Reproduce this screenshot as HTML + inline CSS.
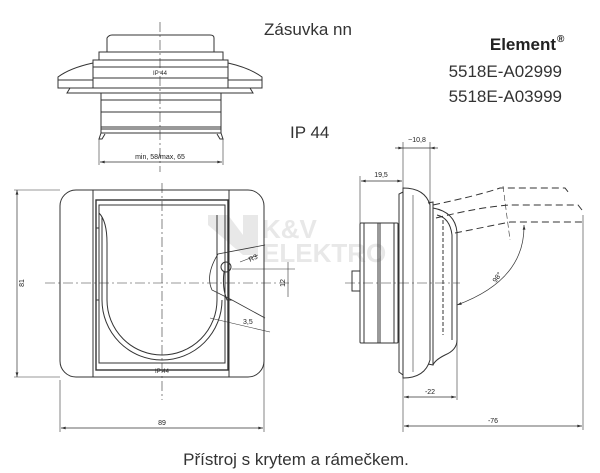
<!DOCTYPE html>
<html><head><meta charset="utf-8"><style>
html,body{margin:0;padding:0;background:#fff;width:600px;height:473px;overflow:hidden}
svg{display:block}
text{font-family:"Liberation Sans",sans-serif;fill:#222}
</style></head><body>
<svg width="600" height="473" viewBox="0 0 600 473" xmlns="http://www.w3.org/2000/svg">
<defs>
<marker id="a" viewBox="0 0 10 6" refX="10" refY="3" markerWidth="8" markerHeight="4" orient="auto-start-reverse"><path d="M0,0L10,3L0,6z" fill="#333"/></marker>
</defs>
<text x="308" y="35" font-size="17" text-anchor="middle" style="fill:#333">Zásuvka nn</text>
<text x="556" y="50" font-size="17" font-weight="bold" text-anchor="end">Element</text>
<text x="557" y="42" font-size="10" font-weight="bold">®</text>
<text x="562" y="77" font-size="17" text-anchor="end" style="fill:#333">5518E-A02999</text>
<text x="562" y="102" font-size="17" text-anchor="end" style="fill:#333">5518E-A03999</text>
<text x="290" y="138" font-size="17" style="fill:#333">IP 44</text>
<text x="296" y="465" font-size="17" text-anchor="middle" style="fill:#333">Přístroj s krytem a rámečkem.</text>

<g>
<path d="M208,215 h20 l15,20 v-20 h15 v40 h-15 l-35,-30z" fill="#e8e8e8"/>
<text x="262" y="238" font-size="26" font-weight="bold" style="fill:#e8e8e8">K&amp;V</text>
<text x="262" y="262" font-size="26" font-weight="bold" style="fill:#e8e8e8">ELEKTRO</text>
</g>

<g fill="none" stroke="#333" stroke-width="1">
<line x1="160" y1="22" x2="160" y2="172" stroke-dasharray="10,3,2,3" stroke-width="0.6"/>
<path d="M107,52 V38 q2,-3 5,-3 H210 q4,0 4,3 V52"/>
<rect x="99" y="52" width="124" height="8"/>
<rect x="93" y="60" width="135" height="28"/>
<line x1="93" y1="67" x2="228" y2="67"/>
<line x1="93" y1="78" x2="228" y2="78"/>
<path d="M93,63 Q70,68 58,77 V88 H93"/>
<path d="M228,63 Q250,68 262,77 V88 H228"/>
<line x1="58" y1="80" x2="93" y2="80"/><line x1="228" y1="80" x2="262" y2="80"/>
<path d="M70,88 l-3,5 H253 l-3,-5"/>
<rect x="101" y="93" width="120" height="40"/>
<line x1="101" y1="100" x2="221" y2="100"/>
<line x1="101" y1="112" x2="221" y2="112"/>
<line x1="101" y1="127" x2="221" y2="127"/>
<line x1="101" y1="129" x2="221" y2="129"/>
<path d="M101,133 l-2,6 h3 l3,-5 M221,133 l2,6 h-3 l-3,-5"/>
<line x1="99" y1="139" x2="99" y2="165" stroke-width="0.6"/>
<line x1="223" y1="139" x2="223" y2="165" stroke-width="0.6"/>
<line x1="100" y1="162" x2="222" y2="162" marker-start="url(#a)" marker-end="url(#a)" stroke-width="0.7"/>

<rect x="60" y="190" width="204" height="187" rx="16"/>
<line x1="93" y1="190" x2="93" y2="377"/><line x1="229" y1="190" x2="229" y2="377"/>
<rect x="96" y="200" width="132" height="170" stroke-width="1.4"/>
<rect x="99" y="205" width="126" height="158"/>
<path d="M99,213 q8,8 8,30 V300 a55,55 0 0 0 110,0 V215"/>
<path d="M102,217 V300 a60,60 0 0 0 120,0"/>
<line x1="96" y1="228" x2="99" y2="228"/><line x1="96" y1="300" x2="99" y2="300"/>
<path d="M265,245 L218,254 Q205,275 212,290 L232,300 L265,318" stroke-width="0.8"/>
<circle cx="226" cy="267" r="5"/>
<path d="M224,272 q-2,16 3,28 h5"/>
<line x1="17" y1="190" x2="17" y2="377" marker-start="url(#a)" marker-end="url(#a)" stroke-width="0.7"/>
<line x1="14" y1="190" x2="60" y2="190" stroke-width="0.6"/>
<line x1="14" y1="377" x2="60" y2="377" stroke-width="0.6"/>
<line x1="45" y1="283" x2="290" y2="283" stroke-dasharray="10,3,2,3" stroke-width="0.6"/>
<line x1="162" y1="183" x2="162" y2="400" stroke-dasharray="10,3,2,3" stroke-width="0.6"/>
<line x1="60" y1="380" x2="60" y2="432" stroke-width="0.6"/>
<line x1="264" y1="340" x2="264" y2="432" stroke-width="0.6"/>
<line x1="61" y1="428" x2="263" y2="428" marker-start="url(#a)" marker-end="url(#a)" stroke-width="0.7"/>
<line x1="232" y1="269" x2="295" y2="269" stroke-width="0.6"/>
<line x1="288" y1="262" x2="288" y2="297" stroke-width="0.6"/>
<line x1="240" y1="262" x2="258" y2="255" stroke-width="0.6"/>
<line x1="210" y1="318" x2="270" y2="332" stroke-width="0.6"/>

<!-- side view -->
<line x1="345" y1="283" x2="460" y2="283" stroke-dasharray="10,3,2,3" stroke-width="0.6"/>
<rect x="352" y="271" width="8" height="20"/>
<rect x="360" y="223" width="38" height="120" rx="1"/>
<line x1="364" y1="223" x2="364" y2="343"/>
<line x1="378" y1="223" x2="378" y2="343"/>
<line x1="380" y1="223" x2="380" y2="343"/>
<line x1="394" y1="223" x2="394" y2="343"/>
<path d="M403,192 L399,194 V372 L403,375"/>
<path d="M403,188 Q425,188 430,205 V360 Q425,378 403,378 z"/>
<line x1="413" y1="195" x2="413" y2="372" stroke-width="0.6"/>
<path d="M428,203 L433,202 V365 L428,364"/>
<path d="M433,208 Q455,212 457,232 V340 Q457,350 445,355 Q435,360 433,365"/>
<path d="M437,215 Q450,218 452,235 V340"/>
<line x1="443" y1="220" x2="443" y2="335" stroke-dasharray="4,2"/>
<path d="M433,205 Q480,195 500,188 H565 l4,5 M436,218 Q480,207 510,205 H578 l4,5 M455,233 L510,222 H583" stroke-dasharray="7,4"/>
<line x1="503" y1="186" x2="510" y2="240" stroke-dasharray="6,3" stroke-width="0.6"/>
<path d="M524,225 Q525,280 457,305" stroke-width="0.7" marker-start="url(#a)" marker-end="url(#a)"/>
<line x1="403" y1="142" x2="403" y2="432" stroke-width="0.6"/>
<line x1="430" y1="142" x2="430" y2="205" stroke-width="0.6"/>
<line x1="360" y1="176" x2="360" y2="223" stroke-width="0.6"/>
<line x1="457" y1="340" x2="457" y2="400" stroke-width="0.6"/>
<line x1="583" y1="215" x2="583" y2="430" stroke-width="0.6"/>
<line x1="395" y1="148" x2="403" y2="148" marker-end="url(#a)" stroke-width="0.7"/>
<line x1="438" y1="148" x2="430" y2="148" marker-end="url(#a)" stroke-width="0.7"/>
<line x1="403" y1="148" x2="430" y2="148" stroke-width="0.7"/>
<line x1="361" y1="181" x2="402" y2="181" marker-start="url(#a)" marker-end="url(#a)" stroke-width="0.7"/>
<line x1="404" y1="397" x2="456" y2="397" marker-start="url(#a)" marker-end="url(#a)" stroke-width="0.7"/>
<line x1="404" y1="426" x2="582" y2="426" marker-start="url(#a)" marker-end="url(#a)" stroke-width="0.7"/>
</g>
<g font-size="7">
<text x="160" y="75" text-anchor="middle" font-size="6">IP 44</text>
<text x="160" y="159" text-anchor="middle">min, 58/max, 65</text>
<text x="162" y="373" text-anchor="middle" font-size="6">IP 44</text>
<text x="162" y="425" text-anchor="middle">89</text>
<text transform="translate(24,283) rotate(-90)" text-anchor="middle">81</text>
<text transform="translate(285,283) rotate(-90)" text-anchor="middle">12</text>
<text transform="translate(250,262) rotate(-25)">R3</text>
<text x="243" y="324">3,5</text>
<text x="417" y="142" text-anchor="middle">~10,8</text>
<text x="381" y="177" text-anchor="middle">19,5</text>
<text x="430" y="394" text-anchor="middle">-22</text>
<text x="493" y="423" text-anchor="middle">-76</text>
<text transform="translate(496,283) rotate(-55)">98°</text>
</g>
</svg>
</body></html>
